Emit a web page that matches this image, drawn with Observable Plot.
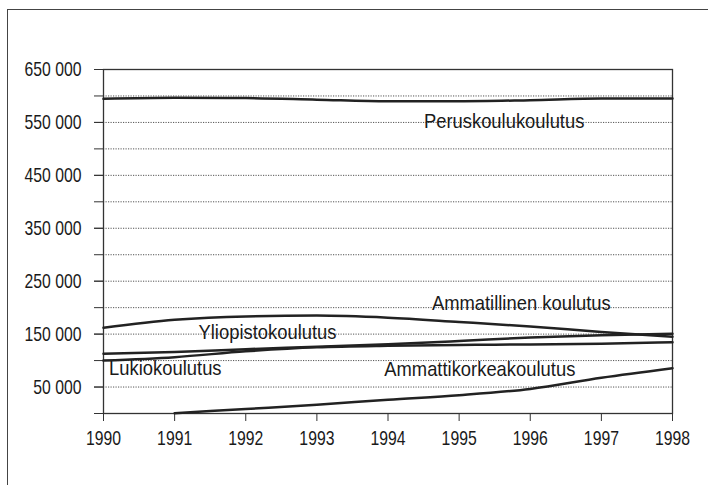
<!DOCTYPE html>
<html>
<head>
<meta charset="utf-8">
<script src="https://cdn.jsdelivr.net/npm/d3@7"></script>
<script src="https://cdn.jsdelivr.net/npm/@observablehq/plot@0.6"></script>
<style>
  html, body { margin: 0; padding: 0; background: #fff; }
  #wrap { position: relative; width: 708px; height: 485px; overflow: hidden; }
  #border { position: absolute; left: 7px; top: 9px; right: -10px; bottom: -10px;
            border-left: 1.5px solid #444; border-top: 1.5px solid #444; pointer-events: none; }
  #chart { position: absolute; left: 0; top: 0; }
</style>
</head>
<body>
<div id="wrap"><div id="border"></div><div id="chart"></div></div>
<script>
// ---- data ----
const years = [1990, 1991, 1992, 1993, 1994, 1995, 1996, 1997, 1998];
const amkYears = [1991, 1992, 1993, 1994, 1995, 1996, 1997, 1998];

const peruskoulu   = [594500, 596500, 596000, 593000, 590000, 590000, 592000, 595000, 595000];
const ammatillinen = [162000, 177000, 183500, 185000, 181000, 173000, 164500, 154000, 145000];
const yliopisto    = [113000, 116000, 121500, 126000, 131000, 137000, 143500, 148000, 150500];
const lukio        = [100000, 106500, 117500, 125000, 128000, 129500, 130500, 132000, 134500];
const amk          = [500, 8500, 16500, 26000, 34500, 46500, 67500, 85500];

const seriesNames = ["Peruskoulukoulutus", "Ammatillinen koulutus", "Yliopistokoulutus", "Lukiokoulutus", "Ammattikorkeakoulutus"];

// label anchors (data coordinates)
const labelYears  = [1994.505, 1994.617, 1991.336, 1990.079, 1993.947];
const labelValues = [550800, 206900, 153000, 84100, 82200];

const xTicks = [1990, 1991, 1992, 1993, 1994, 1995, 1996, 1997, 1998];
const yLabelTicks = [50000, 150000, 250000, 350000, 450000, 550000, 650000];
const yMarkTicks = [0, 50000, 100000, 150000, 200000, 250000, 300000, 350000, 400000, 450000, 500000, 550000, 600000, 650000];
const gridValues = [50000, 100000, 150000, 200000, 250000, 300000, 350000, 400000, 450000, 500000, 550000, 600000];

// ---- build table ----
const rows = [];
const addSeries = (name, xs, vs) => xs.forEach((x, i) => rows.push({series: name, year: x, value: vs[i]}));
addSeries(seriesNames[0], years, peruskoulu);
addSeries(seriesNames[1], years, ammatillinen);
addSeries(seriesNames[2], years, yliopisto);
addSeries(seriesNames[3], years, lukio);
addSeries(seriesNames[4], amkYears, amk);

const labels = seriesNames.map((n, i) => ({text: n, year: labelYears[i], value: labelValues[i]}));

const fmt = d => d3.format(",")(d).replace(/,/g, " ");
const FONT = "'Liberation Sans', Arial, sans-serif";

const chart = Plot.plot({
  width: 708,
  height: 485,
  marginLeft: 103,
  marginRight: 36,
  marginTop: 69,
  marginBottom: 72,
  style: {fontFamily: FONT, fontSize: "21px", color: "#1a1a1a", background: "transparent", overflow: "visible"},
  x: {domain: [1990, 1998]},
  y: {domain: [0, 650000]},
  marks: [
    Plot.ruleY(gridValues, {stroke: "#555", strokeWidth: 1, strokeDasharray: "1.2,1.3"}),
    Plot.axisY({ticks: yMarkTicks, tickSize: 9, tickFormat: () => "", label: null, stroke: "#333"}),
    Plot.axisY({ticks: yLabelTicks, tickSize: 9, tickPadding: 13, tickFormat: fmt, label: null, stroke: "#333", fill: "#1a1a1a", fontSize: 21}),
    Plot.axisX({ticks: xTicks, tickSize: 8, tickPadding: 9, tickFormat: d => String(d), label: null, stroke: "#333", fill: "#1a1a1a", fontSize: 21}),
    Plot.frame({stroke: "#333", strokeWidth: 1.3}),
    Plot.line(rows, {x: "year", y: "value", z: "series", curve: "monotone-x", stroke: "#222", strokeWidth: 2.5}),
    Plot.text(labels, {x: "year", y: "value", text: "text", textAnchor: "start", fontSize: 20, fill: "#1a1a1a", className: "series-lab"})
  ]
});

// condense glyphs horizontally (the original uses a condensed typeface)
function condense(el, s) {
  const x = (+el.getAttribute("x") || 0) + (parseFloat(el.getAttribute("dx")) || 0);
  const y = +el.getAttribute("y") || 0;
  const t = el.getAttribute("transform") || "";
  el.setAttribute("transform", `${t} translate(${x},${y}) scale(${s},1) translate(${-x},${-y})`);
}
chart.querySelectorAll("text").forEach(el => {
  const inSeries = el.closest(".series-lab") || (el.parentNode && el.parentNode.getAttribute && /series-lab/.test(el.parentNode.getAttribute("class") || ""));
  condense(el, inSeries ? 0.92 : 0.75);
});

document.getElementById("chart").appendChild(chart);
</script>
</body>
</html>
